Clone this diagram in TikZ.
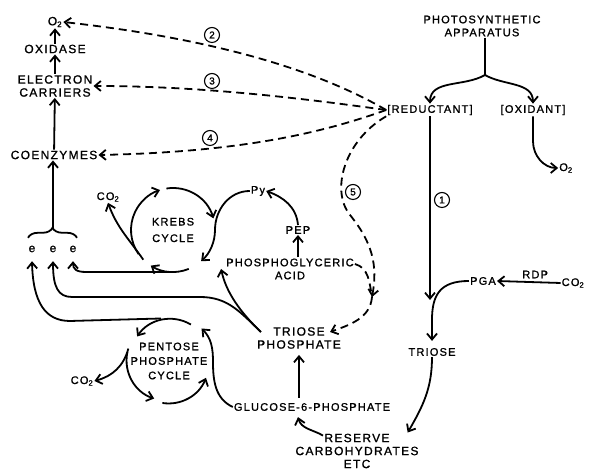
\documentclass[tikz,border=0pt]{standalone}
\usepackage{fontspec}
\setmainfont{Liberation Sans}[LetterSpace=11, FakeBold=1.2]
\usetikzlibrary{arrows.meta,decorations.pathreplacing}

\begin{document}
\begin{tikzpicture}[x=1pt, y=1pt,
  lbl/.style={font=\fontsize{11}{13}\selectfont, align=center, inner sep=1pt},
  lbig/.style={lbl, font=\fontsize{12}{13}\selectfont},
  enode/.style={lbl, font=\fontsize{12}{12}\selectfont, minimum height=24pt},
  num/.style={circle, draw, line width=1.1pt, minimum size=15pt, inner sep=0pt, font=\fontsize{10}{10}\selectfont},
  cycnode/.style={circle, minimum size=#1, inner sep=0pt, outer sep=0pt, align=center, font=\fontsize{11}{14.5}\selectfont},
  conn/.style={-{Straight Barb[length=6pt,width=10pt]}, line width=1.8pt},
  dconn/.style={conn, dash pattern=on 8pt off 5pt},
  dline/.style={line width=1.8pt, dash pattern=on 8pt off 5pt}
]
  \useasboundingbox (0,0) rectangle (590,470);

  \node[lbig] (otwo) at (55,448) {O\textsubscript{2}};
  \node[lbig] (oxidase) at (55,421) {OXIDASE};
  \node[lbig] (carriers) at (55,384) {ELECTRON\\CARRIERS};
  \node[lbig] (coenz) at (54,315) {COENZYMES};
  \node[lbl] (photo) at (482,444) {PHOTOSYNTHETIC\\APPARATUS};
  \node[lbl] (red) at (430,360) {[REDUCTANT]};
  \node[lbl] (oxd) at (533,360) {[OXIDANT]};
  \node[lbl] (otwob) at (566,302) {O\textsubscript{2}};
  \node[lbl] (pga) at (483,189) {PGA};
  \node[lbl] (cotwoc) at (573,187) {CO\textsubscript{2}};
  \node[lbl] (triose) at (432,118) {TRIOSE};
  \node[lbig] (reserve) at (357,19) {RESERVE\\CARBOHYDRATES\\ETC};
  \node[lbl] (gsp) at (312,63) {GLUCOSE-6-PHOSPHATE};
  \node[lbig] (trp) at (299,132) {TRIOSE\\PHOSPHATE};
  \node[lbl] (pgacid) at (290,201) {PHOSPHOGLYCERIC\\ACID};
  \node[lbl] (pep) at (298,240) {PEP};
  \node[lbl] (py) at (258,279) {Py};
  \node[cycnode=84pt] (krebs) at (173,240) {KREBS\\[2pt]CYCLE};
  \node[lbl] (cotwoa) at (108,273) {CO\textsubscript{2}};
  \node[enode] (ea) at (32,221) {e};
  \node[enode] (eb) at (53,221) {e};
  \node[enode] (ec) at (73,221) {e};
  \node[cycnode=80pt] (pent) at (169,109) {PENTOSE\\PHOSPHATE\\CYCLE};
  \node[lbl] (cotwob) at (82,89) {CO\textsubscript{2}};

  \node[num] (n1) at (442,270) {1};
  \node[num] (n2) at (212,435) {2};
  \node[num] (n3) at (212,389) {3};
  \node[num] (n4) at (210,332) {4};
  \node[num] (n5) at (353,278) {5};

  \coordinate (fork) at (485,395);
  \coordinate (jn) at (372,173);
  \coordinate (tin) at (430,170);
  \coordinate (btip) at (53,242);

  \draw[conn] (oxidase) -- (otwo);
  \draw[conn] (carriers) -- (oxidase);
  \draw[conn] (coenz) -- (carriers);

  \draw[line width=1.8pt] (photo.south -| fork) -- (fork);
  \draw[conn] (fork) to[out=-150,in=90] (red.north);
  \draw[conn] (fork) to[out=-30,in=90] (oxd.north);
  \draw[conn] (oxd.south) -- ++(0,-25) to[out=-90,in=180] (otwob.west);

  \draw[dconn] (red.west) .. controls (300,410) and (180,435) .. (otwo.east);
  \draw[dconn] (red.west) .. controls (300,372) and (200,384) .. (carriers.east);
  \draw[dconn] (red.west) .. controls (330,340) and (250,318) .. (coenz.east);
  \draw[dconn] (red.south west) .. controls (345,330) and (330,280) .. (350,255)
    .. controls (372,228) and (378,205) .. (jn);
  \draw[dline] ([yshift=5pt]pgacid.east) to[out=-15,in=100] (jn);
  \draw[dconn] (jn) to[out=-95,in=20] ([xshift=-12pt,yshift=6pt]trp.east);

  \draw[conn] (red.south) -- (tin);
  \draw[conn] (cotwoc.west) -- node[lbl, above=2pt, pos=0.4] (rdp) {RDP} (pga.east);
  \draw[conn] (pga.west) .. controls (440,189) and (432,175) .. (432,150) -- ([yshift=6pt]triose.north);
  \draw[conn] (triose.south) to[out=-90,in=60] ([xshift=-12pt]reserve.north east);
  \draw[conn] ([xshift=-34pt,yshift=-3pt]reserve.north) to[out=150,in=-75] ([xshift=-14pt,yshift=-5pt]gsp.south);
  \draw[conn, shorten <=4pt, shorten >=5pt] (trp.south |- gsp.north) -- (trp.south);

  \draw[conn] ([xshift=5pt,yshift=6pt]trp.west) .. controls (240,158) and (228,173) .. (200,173)
    -- (72,173) .. controls (58,173) and (53,183) .. (eb.south);
  \draw[conn] ([xshift=5pt,yshift=6pt]trp.west) .. controls (240,158) and (226,178) .. ([xshift=-4pt]pgacid.west);
  \draw[conn] (pgacid.north -| pep) -- (pep.south);
  \draw[conn] (pep.north) to[out=95,in=-20] (py.east);

  \draw[conn] (krebs.215) arc[start angle=215, end angle=108, radius=42pt];
  \draw[conn] (krebs.99) arc[start angle=99, end angle=16, radius=42pt];
  \draw[conn] (py.west) to[out=180,in=90] (krebs.0) arc[start angle=0, end angle=-48, radius=42pt];
  \draw[conn] (krebs.292) arc[start angle=292, end angle=238, radius=42pt];
  \draw[conn] (krebs.225) to[out=125,in=-70] (cotwoa.south);
  \draw[conn] (krebs.south) -- (86,198) .. controls (76,198) and (73,201) .. (ec.south);

  \draw[conn] (pent.59) arc[start angle=59, end angle=146, radius=40pt];
  \draw[conn] (pent.168) arc[start angle=168, end angle=252, radius=40pt];
  \draw[conn] (pent.163) to[out=-105,in=15] (cotwob.east);
  \draw[conn] (pent.261) arc[start angle=261, end angle=339, radius=40pt];
  \draw[conn] (gsp.west) to[out=155,in=-90] (213,108) to[out=90,in=-45] ([shift={(45:46pt)}]pent.center);
  \draw[conn] ([xshift=-8pt]pent.north) -- (70,149) .. controls (45,149) and (33,168) .. (ea.south);

  \draw[line width=1.8pt, decorate, decoration={brace, amplitude=10pt}] ([xshift=-4pt,yshift=-1pt]ea.north) -- ([xshift=4pt,yshift=-1pt]ec.north);
  \draw[conn] (btip) -- (coenz.south -| btip);
\end{tikzpicture}
\end{document}
